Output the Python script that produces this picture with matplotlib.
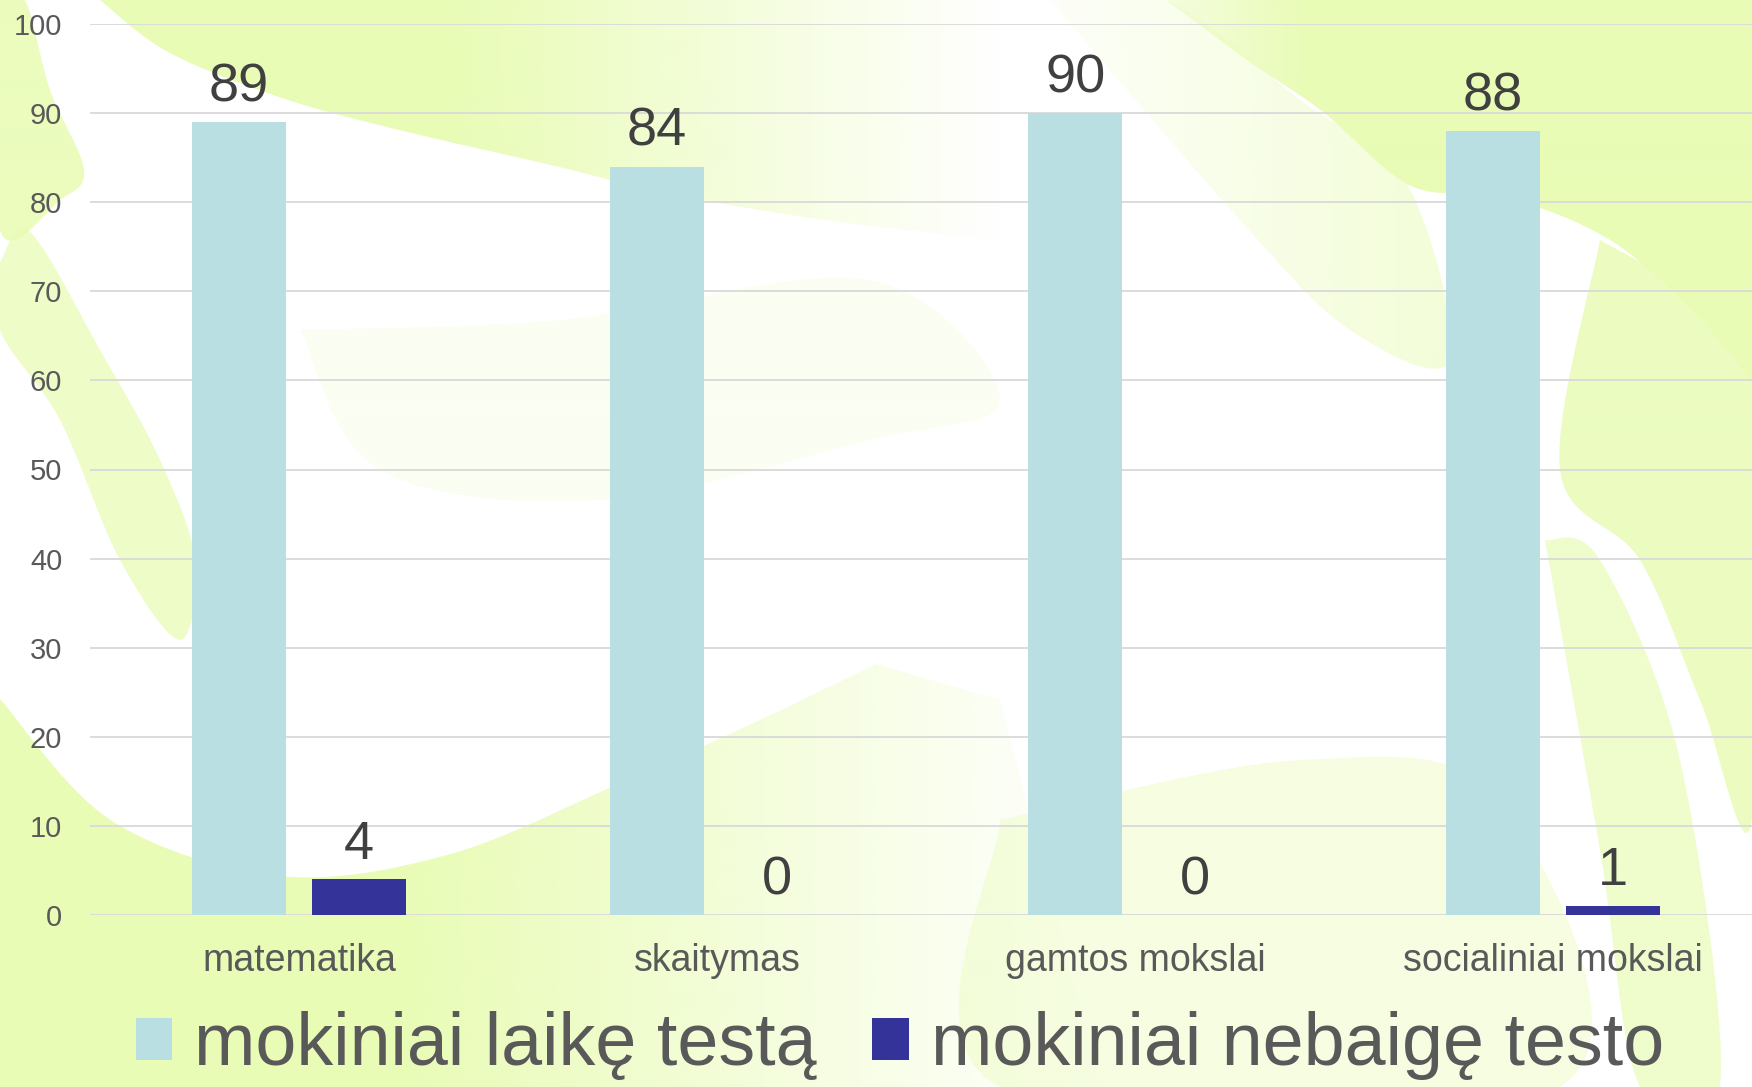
import numpy as np
import matplotlib
matplotlib.use("Agg")
import matplotlib.pyplot as plt
from matplotlib.patches import Polygon

plt.rcParams['font.family'] = ['Liberation Sans', 'DejaVu Sans']

categories = ["matematika", "skaitymas", "gamtos mokslai", "socialiniai mokslai"]
series_names = ["mokiniai laikę testą", "mokiniai nebaigę testo"]
took_test = [89, 84, 90, 88]
not_finished = [4, 0, 0, 1]
y_ticks = [0, 10, 20, 30, 40, 50, 60, 70, 80, 90, 100]

W, H = 1752, 1087
fig = plt.figure(figsize=(W / 100, H / 100), dpi=100, facecolor='white')

# ---------------- decorative background ----------------
GREEN = np.array([233, 252, 182]) / 255.0
ax_bg = fig.add_axes([0, 0, 1, 1], zorder=-10)
ax_bg.set_facecolor('white')
ax_bg.axis('off')

gy, gx = np.mgrid[0:H:4, 0:W:4].astype(float)


def cr(pts, n=16):
    p = np.array(pts, float)
    p = np.vstack([p[0], p, p[-1]])
    out = []
    t = np.linspace(0, 1, n, endpoint=False)[:, None]
    for i in range(1, len(p) - 2):
        p0, p1, p2, p3 = p[i - 1], p[i], p[i + 1], p[i + 2]
        out.append(0.5 * ((2 * p1) + (-p0 + p2) * t + (2 * p0 - 5 * p1 + 4 * p2 - p3) * t ** 2
                          + (-p0 + 3 * p1 - 3 * p2 + p3) * t ** 3))
    out.append(p[-2][None])
    return np.vstack(out)


def region(curve, extra, alpha):
    pts = np.vstack([cr(curve), np.array(extra, float).reshape(-1, 2)]) if extra else cr(curve)
    poly = Polygon(pts, closed=True, transform=ax_bg.transData, fc='none', ec='none')
    ax_bg.add_patch(poly)
    a = alpha(gx, gy) if callable(alpha) else np.full(gx.shape, alpha)
    rgba = np.zeros(gx.shape + (4,))
    rgba[..., :3] = GREEN
    rgba[..., 3] = np.clip(a, 0, 1)
    im = ax_bg.imshow(rgba, extent=[0, W, H, 0], interpolation='bilinear', aspect='auto', zorder=1)
    im.set_clip_path(poly)


# top band (fades to the right)
region([(100, 0), (168, 52), (279, 97), (391, 128), (559, 167), (670, 194), (840, 222), (1050, 245)],
       [(1150, 0)], lambda x, y: 1 - (x - 450) / 550)
# top-right green
region([(1166, 0), (1250, 62), (1323, 112), (1407, 184), (1480, 195), (1546, 210),
        (1610, 240), (1658, 278), (1710, 330), (1752, 382)],
       [(1752, 0)], lambda x, y: 0.45 + (x - 1166) / 250)
# pale diagonal below the top-right boundary
region([(1050, 0), (1166, 0), (1300, 100), (1407, 184), (1450, 360), (1350, 330), (1240, 220), (1050, 0)],
       None, lambda x, y: 0.1 + (x - 1050) / 900)
# right edge green
region([(1600, 240), (1700, 300), (1752, 370), (1752, 820), (1700, 700), (1640, 560), (1560, 470), (1600, 240)],
       None, 0.85)
# right lower stripe
region([(1545, 540), (1600, 560), (1680, 760), (1720, 1087), (1640, 1087), (1600, 850), (1545, 540)],
       None, 0.7)
# left top wedge
region([(0, 0), (25, 0), (50, 90), (84, 170), (60, 200), (0, 230), (0, 0)], None, 0.9)
# left stripe
region([(0, 262), (30, 232), (100, 350), (160, 460), (195, 560), (180, 640), (120, 560),
        (60, 420), (0, 330), (0, 262)], None, 0.75)
# bottom green below the big white arc
region([(0, 699), (112, 821), (279, 876), (447, 855), (614, 786), (760, 720), (876, 664)],
       [(1000, 700), (1100, 1087), (0, 1087)], lambda x, y: 1 - (x - 400) / 700)
# bottom-right pale
region([(1000, 820), (1300, 760), (1500, 800), (1560, 1087), (1000, 1087), (1000, 820)], None, 0.4)
# faint middle band
region([(300, 330), (560, 320), (870, 280), (1000, 400), (870, 440), (600, 500), (380, 470), (300, 330)],
       None, 0.18)
ax_bg.set_xlim(0, W)
ax_bg.set_ylim(H, 0)

# ---------------- chart ----------------
left, right, top_px, bottom_px = 90, 1752, 24, 915
ax = fig.add_axes([left / W, 1 - bottom_px / H, (right - left) / W, (bottom_px - top_px) / H])
ax.set_facecolor('none')

x = np.arange(len(categories))
bw = 0.224
off = 0.143
b1 = ax.bar(x - off, took_test, bw, color='#B9DFE2', label=series_names[0], zorder=3)
b2 = ax.bar(x + off, not_finished, bw, color='#333399', label=series_names[1], zorder=3)
for bars in (b1, b2):
    ax.bar_label(bars, padding=7, fontsize=39, color='#404040')

ax.set_xlim(-0.5, len(categories) - 0.5 - 10 / 418)
ax.set_ylim(0, 100)
ax.set_yticks(y_ticks)
ax.set_xticks(x)
ax.set_xticklabels(categories)
ax.tick_params(axis='y', length=0, pad=20, labelsize=21, labelcolor='#595959')
ax.tick_params(axis='x', length=0, pad=20, labelsize=27, labelcolor='#595959')
ax.grid(axis='y', color='#D9D9D9', linewidth=1.3, zorder=0)
ax.set_axisbelow(True)
for sp in ax.spines.values():
    sp.set_visible(False)

fig.legend(handles=[b1, b2], labels=series_names, loc='center',
           bbox_to_anchor=(900 / W, 1 - 1046 / H), ncol=2, frameon=False,
           fontsize=53, labelcolor='#595959', handlelength=0.5, handleheight=0.5,
           handletextpad=0.3, columnspacing=0.75, borderpad=0, borderaxespad=0)

fig.savefig('out.png', dpi=100, facecolor='white')
